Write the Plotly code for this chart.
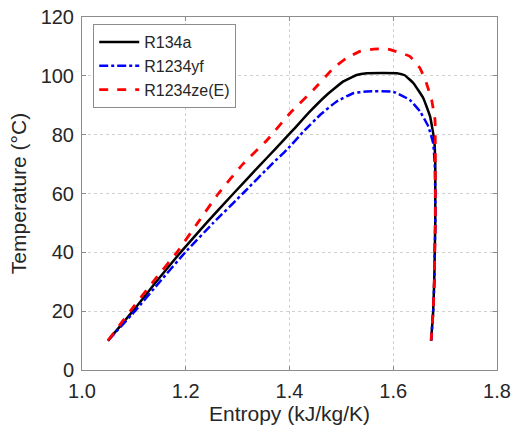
import plotly.graph_objects as go

# Saturation domes (entropy kJ/kg/K, temperature °C)
r134a_s = [1.050, 1.098, 1.143, 1.190, 1.240, 1.292, 1.345, 1.372, 1.407, 1.4395, 1.4717, 1.5037, 1.5295, 1.549,
           1.607, 1.622, 1.639, 1.658, 1.671, 1.679, 1.681, 1.681, 1.681, 1.680, 1.679, 1.677, 1.673]
r134a_T = [10, 20, 30, 40, 50, 60, 70, 75, 81.6, 87.9, 93.5, 98.1, 100.3, 100.9,
           100.9, 100.2, 97.5, 92.4, 86.2, 78.2, 70, 60, 50, 40, 30, 20, 10]

r1234yf_s = [1.050, 1.102, 1.150, 1.199, 1.253, 1.310, 1.366, 1.3946, 1.4266, 1.4588, 1.491, 1.523, 1.549,
             1.595, 1.605, 1.632, 1.6516, 1.6676, 1.677, 1.680, 1.681, 1.681, 1.680, 1.679, 1.677, 1.673]
r1234yf_T = [10, 20, 30, 40, 50, 60, 70, 74.8, 81.0, 86.7, 91.3, 94.1, 94.7,
             94.7, 94.3, 91.8, 87.9, 82.8, 77.1, 70, 60, 50, 40, 30, 20, 10]

r1234ze_s = [1.050, 1.093, 1.137, 1.183, 1.223, 1.263, 1.310, 1.357, 1.404, 1.446, 1.4846, 1.510, 1.536, 1.5615,
             1.590, 1.632, 1.6516, 1.664, 1.674, 1.6805, 1.681, 1.681, 1.681, 1.681, 1.680, 1.679, 1.677, 1.673]
r1234ze_T = [10, 20, 30, 40, 50, 60, 70, 78.2, 87.9, 95.2, 102.6, 106.0, 108.3, 109.1,
             109.1, 106.6, 102.6, 97.5, 91.8, 85.0, 78, 70, 60, 50, 40, 30, 20, 10]

x_ticks = [1.0, 1.2, 1.4, 1.6, 1.8]
y_ticks = [0, 20, 40, 60, 80, 100, 120]

FONT = "Liberation Sans, Arial"
TXT = "#262626"

fig = go.Figure()
fig.add_trace(go.Scatter(x=r134a_s, y=r134a_T, mode="lines", name="R134a",
                         line=dict(color="black", width=2.5, shape="spline", smoothing=0.3)))
fig.add_trace(go.Scatter(x=r1234yf_s, y=r1234yf_T, mode="lines", name="R1234yf",
                         line=dict(color="blue", width=2.5, dash="dashdot", shape="spline", smoothing=0.3)))
fig.add_trace(go.Scatter(x=r1234ze_s, y=r1234ze_T, mode="lines", name="R1234ze(E)",
                         line=dict(color="red", width=2.8, dash="dash", shape="spline", smoothing=0.3)))

axis_common = dict(
    showline=True, linecolor="#8c8c8c", linewidth=1, mirror="ticks",
    ticks="inside", ticklen=4, tickcolor="#8c8c8c",
    showgrid=True, gridcolor="#d0d0d0", griddash="dot", gridwidth=1,
    zeroline=False, automargin=False, ticklabeloverflow="allow",
    tickfont=dict(family=FONT, size=20, color=TXT),
)

fig.update_xaxes(range=[1.0, 1.8], tickvals=x_ticks, ticktext=[f"{v:.1f}" for v in x_ticks],
                 ticklabelstandoff=3,
                 title=dict(text="Entropy (kJ/kg/K)", font=dict(family=FONT, size=21, color=TXT),
                            standoff=4),
                 **axis_common)
fig.update_yaxes(range=[0, 120], tickvals=y_ticks, ticklabelstandoff=3,
                 title=dict(text="Temperature (°C)", font=dict(family=FONT, size=21, color=TXT),
                            standoff=8),
                 **axis_common)

fig.update_layout(
    width=513, height=432,
    margin=dict(l=82, r=16, t=17, b=62),
    paper_bgcolor="white", plot_bgcolor="white",
    legend=dict(x=0.027, y=0.98, xanchor="left", yanchor="top",
                bgcolor="white", bordercolor="#8c8c8c", borderwidth=1,
                font=dict(family=FONT, size=16, color=TXT),
                tracegroupgap=0, itemwidth=40),
    showlegend=True,
)

# remove the page's default body margin so the figure fills the window exactly
fig.write_html("out.html",
               config={"displayModeBar": False},
               post_script="document.body.style.margin='0';document.body.style.overflow='hidden';")
